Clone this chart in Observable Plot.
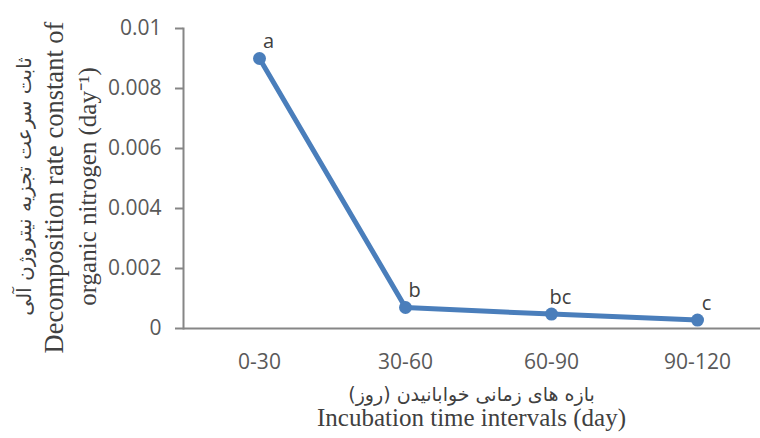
<!DOCTYPE html>
<html>
<head>
<meta charset="utf-8">
<script src="https://cdn.jsdelivr.net/npm/d3@7"></script>
<script src="https://cdn.jsdelivr.net/npm/@observablehq/plot@0.6"></script>
<style>
  html, body { margin: 0; padding: 0; background: #ffffff; }
  #chart svg [aria-label="y-axis tick"] { stroke: #868686; stroke-width: 2px; }
</style>
</head>
<body>
<div id="chart"></div>
<script>
// ---- data ----
const categories = ["0-30", "30-60", "60-90", "90-120"];
const rateValues = [0.009, 0.0007, 0.00048, 0.00028];
const groupLetters = ["a", "b", "bc", "c"];
const yTicks = [0, 0.002, 0.004, 0.006, 0.008, 0.01];
const yTitlePersian = ["ثابت سرعت تجزیه نیتروژن آلی"];
const yTitleEnglish1 = ["Decomposition rate constant of"];
const yTitleEnglish2 = ["organic nitrogen (day⁻¹)"];
const xTitlePersian = ["بازه های زمانی خوابانیدن (روز)"];
const xTitleEnglish = ["Incubation time intervals (day)"];

const data = categories.map((c, i) => ({interval: c, rate: rateValues[i], letter: groupLetters[i]}));

const blue = "#4a7ebb";
const axisGray = "#868686";
const tickText = "#595959";
const serif = "'Liberation Serif', 'Times New Roman', serif";
const persianFont = "'DejaVu Sans', sans-serif";

const chart = Plot.plot({
  width: 760,
  height: 438,
  marginLeft: 183,
  marginTop: 28,
  marginBottom: 110,
  marginRight: -10,
  style: {fontFamily: "'Open Sans', sans-serif", background: "#ffffff", color: tickText},
  x: {type: "point", domain: categories, padding: 0.5, insetLeft: 2, label: null},
  y: {domain: [0, 0.01], label: null},
  marks: [
    Plot.frame({anchor: "left", stroke: axisGray, strokeWidth: 2}),
    Plot.ruleY([0], {stroke: axisGray, strokeWidth: 2}),
    Plot.axisY({ticks: yTicks, tickFormat: d3.format("~g"), tickSize: 8, tickPadding: 14, fontSize: 21, label: null, color: tickText}),
    Plot.axisX({tickSize: 0, tickPadding: 26, fontSize: 21, label: null, color: tickText}),
    Plot.line(data, {x: "interval", y: "rate", stroke: blue, strokeWidth: 5}),
    Plot.dot(data, {x: "interval", y: "rate", r: 6.5, fill: blue}),
    Plot.text(data, {x: "interval", y: "rate", text: "letter", dx: 9, dy: -17, fontSize: 20, fill: "#404040"}),
    Plot.text(yTitlePersian, {text: d => d, frameAnchor: "left", textAnchor: "middle", rotate: -90, dx: -159, dy: 8, fontSize: 20, fontFamily: persianFont, fill: "#404040"}),
    Plot.text(yTitleEnglish1, {text: d => d, frameAnchor: "left", textAnchor: "middle", rotate: -90, dx: -129, dy: 9, fontSize: 26.5, fontFamily: serif, fill: "#404040"}),
    Plot.text(yTitleEnglish2, {text: d => d, frameAnchor: "left", textAnchor: "middle", rotate: -90, dx: -96, dy: 8, fontSize: 25, fontFamily: serif, fill: "#404040"}),
    Plot.text(xTitlePersian, {text: d => d, frameAnchor: "bottom", textAnchor: "middle", lineAnchor: "bottom", dx: -5.5, dy: 72, fontSize: 19, fontFamily: persianFont, fill: "#404040"}),
    Plot.text(xTitleEnglish, {text: d => d, frameAnchor: "bottom", textAnchor: "middle", lineAnchor: "bottom", dx: -5.5, dy: 97, fontSize: 25, fontFamily: serif, fill: "#404040"})
  ]
});
document.getElementById("chart").appendChild(chart);
</script>
</body>
</html>
